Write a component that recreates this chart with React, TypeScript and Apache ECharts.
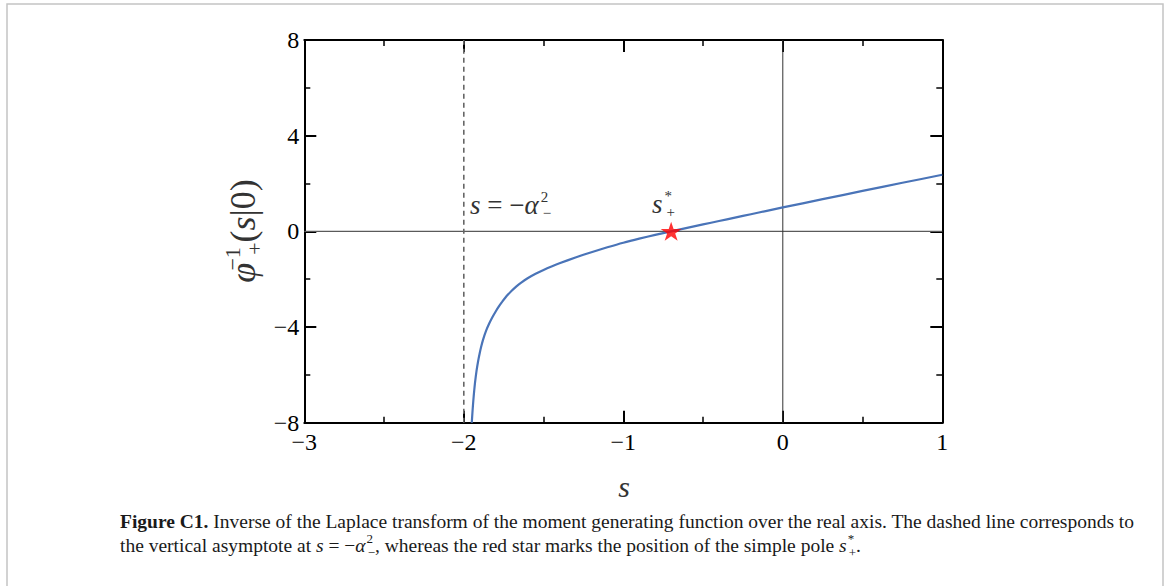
import React, { useEffect, useRef } from "react";
import * as echarts from "echarts";

// ---- data ----
const xTicks = [-3, -2, -1, 0, 1];
const yTicks = [-8, -4, 0, 4, 8];
const sValues = [-1.95, -1.945, -1.94, -1.935, -1.93, -1.92, -1.91, -1.9, -1.89, -1.88, -1.86, -1.84, -1.82, -1.8, -1.78, -1.76, -1.74, -1.72, -1.7, -1.67, -1.64, -1.6, -1.55, -1.5, -1.45, -1.4, -1.3, -1.2, -1.1, -1.0, -0.9, -0.8, -0.7, -0.6, -0.5, -0.4, -0.3, -0.2, -0.1, 0, 0.25, 0.5, 0.75, 1.0];
const phiValues = [-8.0, -7.49, -7.05, -6.675, -6.35, -5.825, -5.42, -5.085, -4.795, -4.545, -4.155, -3.845, -3.582, -3.349, -3.139, -2.949, -2.778, -2.624, -2.485, -2.3, -2.141, -1.961, -1.772, -1.611, -1.467, -1.335, -1.092, -0.871, -0.666, -0.474, -0.305, -0.15, 0.0, 0.145, 0.29, 0.432, 0.574, 0.716, 0.858, 1.0, 1.345, 1.69, 2.03, 2.365];
const asymptote = [[-2, -8], [-2, 8]];
const zeroH = [[-3, 0], [1, 0]];
const zeroV = [[0, -8], [0, 8]];
const pole = [[-0.7, 0]];

const SERIF = '"Liberation Serif", "Times New Roman", serif';
const STAR = "path://M12,0 L14.8,8.6 L24,8.6 L16.6,14 L19.4,22.8 L12,17.4 L4.6,22.8 L7.4,14 L0,8.6 L9.2,8.6 Z";

const fmt = (v: number) => (v < 0 ? "\u2212" + Math.abs(v) : String(v));

export default function App() {
  const ref = useRef<HTMLDivElement>(null);
  useEffect(() => {
    document.body.style.margin = "0";
    const chart = echarts.init(ref.current!, null, { renderer: "svg" });
    const axisCommon = {
      type: "value" as const,
      axisLine: { show: true, onZero: false, lineStyle: { color: "#000", width: 2 } },
      axisTick: { show: true, inside: true, length: 12, lineStyle: { color: "#000", width: 2 } },
      minorTick: { show: true, splitNumber: 2, length: 6, lineStyle: { color: "#000", width: 1.5 } },
      splitLine: { show: false },
      minorSplitLine: { show: false },
    };
    const xBase = { ...axisCommon, min: xTicks[0], max: xTicks[xTicks.length - 1], interval: 1 };
    const yBase = { ...axisCommon, min: yTicks[0], max: yTicks[yTicks.length - 1], interval: 4 };
    const curve = sValues.map((s, i) => [s, phiValues[i]]);
    const mathRich = (base: number, small: number, lh: number, color: string, pad: number) => ({
      i: { fontStyle: "italic", fontSize: base, fontFamily: SERIF, fill: color, lineHeight: lh },
      sup: { fontSize: small, fontFamily: SERIF, fill: color, lineHeight: small, verticalAlign: "top", width: 0.1, padding: [0, 0, 0, pad] },
      sub: { fontSize: small, fontFamily: SERIF, fill: color, lineHeight: small, verticalAlign: "bottom", padding: [0, 0, 0, pad] },
    });
    chart.setOption({
      animation: false,
      grid: { left: 304.3, top: 40, right: 225.7, bottom: 163.3 },
      xAxis: [
        { ...xBase, position: "bottom", axisLabel: { margin: 7, fontSize: 24, fontFamily: SERIF, color: "#000", formatter: fmt } },
        { ...xBase, position: "top", axisLabel: { show: false } },
      ],
      yAxis: [
        { ...yBase, position: "left", axisLabel: { margin: 5, fontSize: 24, fontFamily: SERIF, color: "#000", formatter: fmt } },
        { ...yBase, position: "right", axisLabel: { show: false } },
      ],
      series: [
        { type: "line", data: zeroH, symbol: "none", silent: true, lineStyle: { color: "#5a5a5a", width: 1.3 }, z: 1 },
        { type: "line", data: zeroV, symbol: "none", silent: true, lineStyle: { color: "#333", width: 1 }, z: 1 },
        { type: "line", data: asymptote, symbol: "none", silent: true, lineStyle: { color: "#666", width: 1.6, type: [5, 4] }, z: 2 },
        { type: "line", data: curve, symbol: "none", smooth: 0.2, silent: true, lineStyle: { color: "#4a74b8", width: 2.2 }, z: 3 },
        { type: "scatter", data: pole, symbol: STAR, symbolSize: [21, 20], symbolKeepAspect: true, itemStyle: { color: "#ff0000" }, z: 4 },
      ],
      graphic: [
        { type: "rect", silent: true, z: -10, shape: { x: 7, y: 4, width: 1156, height: 640 }, style: { fill: "#fff", stroke: "#c4c4c4", lineWidth: 1.5 } },
        { type: "text", x: 624, y: 486, style: { text: "s", font: `italic 30px ${SERIF}`, fill: "#333", align: "center", verticalAlign: "middle" } },
        {
          type: "text", x: 243, y: 231, rotation: Math.PI / 2,
          style: {
            text: "{i|\u03c6}{sup|\u22121}{sub|+}({i|s}|0)", fontSize: 36, fontFamily: SERIF, fill: "#333", lineHeight: 44,
            align: "center", verticalAlign: "middle", rich: mathRich(36, 22, 44, "#333", 4),
          },
        },
        {
          type: "text", x: 470, y: 205,
          style: {
            text: "{i|s} = \u2212{i|\u03b1}{sup|2}{sub|\u2212}", fontSize: 27, fontFamily: SERIF, fill: "#333", lineHeight: 31,
            align: "left", verticalAlign: "middle", rich: mathRich(27, 15, 31, "#333", 2),
          },
        },
        {
          type: "text", x: 652, y: 204,
          style: {
            text: "{i|s}{sup|*}{sub|+}", fontSize: 27, fontFamily: SERIF, fill: "#333", lineHeight: 31,
            align: "left", verticalAlign: "middle", rich: mathRich(27, 15, 31, "#333", 2),
          },
        },
        {
          type: "text", x: 120, y: 521,
          style: {
            text: "{b|Figure C1.} Inverse of the Laplace transform of the moment generating function over the real axis. The dashed line corresponds to",
            fontSize: 19.5, fontFamily: SERIF, fill: "#1a1a1a", lineHeight: 24, align: "left", verticalAlign: "middle",
            rich: { b: { fontWeight: "bold", fontSize: 19.5, fontFamily: SERIF, fill: "#1a1a1a", lineHeight: 24 } },
          },
        },
        {
          type: "text", x: 120, y: 545,
          style: {
            text: "the vertical asymptote at {i|s} = \u2212{i|\u03b1}{sup|2}{sub|\u2212}, whereas the red star marks the position of the simple pole {i|s}{sup|*}{sub|+}.",
            fontSize: 19.5, fontFamily: SERIF, fill: "#1a1a1a", lineHeight: 27, align: "left", verticalAlign: "middle",
            rich: {
              i: { fontStyle: "italic", fontSize: 19.5, fontFamily: SERIF, fill: "#1a1a1a", lineHeight: 27 },
              sup: { fontSize: 13, fontFamily: SERIF, fill: "#1a1a1a", lineHeight: 13, verticalAlign: "top", width: 0.1, padding: [0, 0, 0, 1] },
              sub: { fontSize: 13, fontFamily: SERIF, fill: "#1a1a1a", lineHeight: 13, verticalAlign: "bottom", padding: [0, 0, 0, 1] },
            },
          },
        },
      ],
    });
    return () => chart.dispose();
  }, []);
  return <div ref={ref} style={{ width: 1168, height: 586 }} />;
}
